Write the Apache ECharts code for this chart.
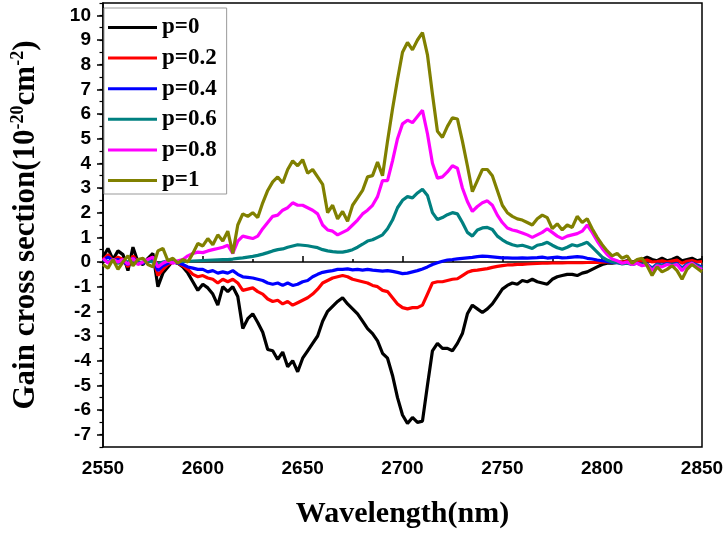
<!DOCTYPE html>
<html>
<head>
<meta charset="utf-8">
<script src="https://cdn.jsdelivr.net/npm/echarts@6/dist/echarts.min.js"></script>
<style>
  html, body { margin: 0; padding: 0; background: #fff; }
  #main { width: 727px; height: 534px; }
</style>
</head>
<body>
<div id="main"></div>
<script>
// wavelength grid (nm): 2550 .. 2850, one sample every 2.5 nm
var wlStart = 2550, wlStep = 2.5;

// gain cross section (1e-20 cm^2), one row = 25 nm
var p0 = [
  0.2, 0.55, 0.1, 0.45, 0.3, -0.35, 0.6, 0.0, -0.1, 0.15,
  0.35, -1.0, -0.45, -0.2, 0.05, -0.05, -0.2, -0.45, -0.8, -1.15,
  -0.9, -1.05, -1.3, -1.75, -1.0, -1.2, -1.0, -1.4, -2.7, -2.3,
  -2.1, -2.45, -2.85, -3.55, -3.6, -3.95, -3.65, -4.25, -4.0, -4.45,
  -3.9, -3.6, -3.3, -3.0, -2.4, -2.0, -1.8, -1.6, -1.45, -1.7,
  -1.9, -2.1, -2.4, -2.7, -2.9, -3.2, -3.7, -3.9, -4.6, -5.5,
  -6.2, -6.55, -6.3, -6.5, -6.45, -5.0, -3.6, -3.3, -3.5, -3.5,
  -3.6, -3.3, -2.9, -2.1, -1.75, -1.9, -2.05, -1.9, -1.7, -1.4,
  -1.1, -0.95, -0.85, -0.9, -0.75, -0.8, -0.7, -0.8, -0.85, -0.9,
  -0.7, -0.6, -0.55, -0.5, -0.5, -0.55, -0.45, -0.4, -0.3, -0.2,
  -0.1, -0.05, -0.05, -0.02, 0.0, 0.05, 0.0, 0.05, 0.1, 0.2,
  0.1, 0.05, 0.15, 0.05, 0.1, 0.2, 0.05, 0.1, 0.15, 0.05,
  0.1
];
var p02 = [
  0.1, 0.3, 0.05, 0.2, 0.1, -0.2, 0.25, 0.0, -0.05, 0.1,
  0.2, -0.55, -0.3, -0.1, 0.0, -0.05, -0.15, -0.3, -0.5, -0.6,
  -0.55, -0.65, -0.7, -0.85, -0.7, -0.8, -0.7, -0.85, -1.15, -1.1,
  -1.05, -1.2, -1.3, -1.5, -1.6, -1.55, -1.7, -1.6, -1.75, -1.65,
  -1.55, -1.45, -1.3, -1.1, -0.85, -0.75, -0.65, -0.6, -0.55, -0.6,
  -0.7, -0.75, -0.8, -0.85, -0.95, -1.0, -1.15, -1.2, -1.45, -1.7,
  -1.85, -1.9, -1.85, -1.85, -1.75, -1.3, -0.85, -0.8, -0.8, -0.75,
  -0.7, -0.68, -0.55, -0.42, -0.35, -0.33, -0.3, -0.27, -0.22, -0.18,
  -0.15, -0.12, -0.12, -0.1, -0.1, -0.08, -0.07, -0.06, -0.05, -0.05,
  -0.04, -0.04, -0.04, -0.03, -0.03, -0.03, -0.03, -0.02, -0.02, -0.02,
  -0.01, 0.0, 0.0, 0.02, 0.0, 0.03, -0.02, 0.02, 0.05, 0.08,
  0.0, 0.02, 0.05, 0.0, 0.04, 0.08, -0.05, 0.03, 0.06, 0.0,
  0.02
];
var p04 = [
  0.05, 0.2, 0.05, 0.1, 0.0, -0.1, 0.15, 0.0, -0.05, 0.05,
  0.1, -0.35, -0.15, -0.05, 0.0, -0.05, -0.1, -0.2, -0.25, -0.3,
  -0.3, -0.4, -0.35, -0.45, -0.4, -0.45, -0.35, -0.5, -0.6, -0.62,
  -0.65, -0.7, -0.75, -0.85, -0.9, -0.85, -0.95, -0.85, -0.95, -0.9,
  -0.8, -0.75, -0.6, -0.5, -0.42, -0.38, -0.35, -0.3, -0.3, -0.28,
  -0.32, -0.3, -0.33, -0.3, -0.33, -0.35, -0.37, -0.35, -0.38, -0.42,
  -0.47, -0.45, -0.4, -0.35, -0.28, -0.2, -0.1, -0.03, 0.03, 0.08,
  0.1, 0.13, 0.15, 0.17, 0.19, 0.22, 0.24, 0.23, 0.21, 0.19,
  0.17, 0.17, 0.16, 0.16, 0.17, 0.16, 0.17, 0.18, 0.2, 0.16,
  0.18, 0.2, 0.17, 0.18, 0.2, 0.22, 0.2, 0.15, 0.12, 0.08,
  0.05, 0.02, -0.02, -0.03, -0.06, -0.04, -0.08, -0.05, -0.1, -0.08,
  -0.25, -0.08, -0.12, -0.06, -0.1, -0.06, -0.25, -0.08, -0.04, -0.12,
  -0.2
];
var p06 = [
  0.1, 0.0, 0.05, -0.05, 0.05, 0.0, 0.1, -0.05, 0.0, 0.05,
  0.0, -0.1, 0.0, 0.05, 0.0, 0.02, 0.02, 0.03, 0.04, 0.05,
  0.06, 0.07, 0.08, 0.09, 0.1, 0.1, 0.12, 0.15, 0.17, 0.2,
  0.23, 0.27, 0.32, 0.38, 0.45, 0.5, 0.53, 0.6, 0.65, 0.7,
  0.68, 0.66, 0.62, 0.58, 0.5, 0.45, 0.42, 0.4, 0.4, 0.44,
  0.5, 0.6, 0.72, 0.85, 0.9, 1.0, 1.1, 1.35, 1.7, 2.2,
  2.5, 2.65, 2.6, 2.8, 2.95, 2.7, 2.0, 1.72, 1.8, 1.92,
  2.0, 1.95, 1.6, 1.2, 1.05, 1.3, 1.38, 1.4, 1.32, 1.05,
  0.9, 0.78, 0.7, 0.65, 0.68, 0.62, 0.55, 0.68, 0.72, 0.8,
  0.68, 0.58, 0.52, 0.6, 0.7, 0.65, 0.72, 0.8, 0.6, 0.4,
  0.2, 0.08, 0.0, -0.02, -0.08, -0.05, -0.1, -0.05, -0.12, -0.1,
  -0.3, -0.1, -0.15, -0.08, -0.12, -0.08, -0.3, -0.1, -0.05, -0.15,
  -0.25
];
var p08 = [
  0.15, -0.05, 0.1, 0.0, 0.1, -0.1, 0.15, -0.1, 0.0, 0.1,
  0.2, -0.2, -0.05, 0.05, -0.05, 0.05, 0.1, 0.25, 0.35, 0.4,
  0.38, 0.45, 0.5, 0.55, 0.6, 0.68, 0.35, 0.85, 1.05, 1.0,
  0.95, 1.05, 1.35, 1.6, 1.85, 1.9, 2.1, 2.2, 2.4, 2.3,
  2.3, 2.2, 2.1, 1.95, 1.5, 1.3, 1.25, 1.1, 1.2, 1.3,
  1.5, 1.7, 1.95, 2.1, 2.3, 2.65, 3.3, 3.3, 4.1, 5.0,
  5.6, 5.75, 5.65, 5.9, 6.15, 5.2, 4.0, 3.4, 3.45, 3.65,
  3.9, 3.8, 3.0, 2.45, 2.05, 2.25, 2.4, 2.48, 2.3, 1.9,
  1.6, 1.38, 1.3, 1.25, 1.18, 1.1, 1.0, 1.1, 1.2, 1.35,
  1.2, 1.05, 0.95, 1.05, 1.1, 1.15, 1.25, 1.5, 1.2, 0.85,
  0.55, 0.3, 0.12, 0.05, -0.05, 0.0, -0.1, -0.05, -0.15, -0.1,
  -0.35, -0.15, -0.2, -0.1, -0.15, -0.1, -0.35, -0.15, -0.05, -0.2,
  -0.3
];
var p1 = [
  -0.1, -0.25, 0.1, -0.3, 0.0, 0.25, -0.15, 0.1, 0.15, -0.1,
  -0.2, 0.45, 0.55, 0.05, 0.15, -0.05, 0.1, 0.0, 0.35, 0.75,
  0.65, 0.95, 0.7, 1.1, 0.85, 1.25, 0.35, 1.5, 1.95, 1.85,
  2.0, 1.8, 2.4, 2.9, 3.25, 3.45, 3.2, 3.75, 4.1, 3.9,
  4.15, 3.6, 3.75, 3.45, 3.15, 2.0, 2.3, 1.75, 2.05, 1.65,
  2.3, 2.6, 2.9, 3.45, 3.5, 4.05, 3.5, 4.9, 6.2, 7.4,
  8.5, 8.9, 8.6, 9.0, 9.3, 8.4, 6.8, 5.3, 5.05, 5.5,
  5.85, 5.8, 4.9, 3.9, 2.85, 3.3, 3.75, 3.75, 3.5, 2.9,
  2.3, 2.0, 1.85, 1.75, 1.7, 1.6, 1.5, 1.75, 1.9, 1.8,
  1.35, 1.55, 1.3, 1.5, 1.4, 1.85, 1.6, 1.75, 1.35, 1.0,
  0.7, 0.45, 0.25, 0.35, 0.15, 0.25, -0.05, 0.1, 0.15, -0.15,
  -0.55, -0.2, -0.4, -0.3, -0.15, -0.35, -0.7, -0.3, -0.1, -0.25,
  -0.4
];

var seriesNames = ['p=0', 'p=0.2', 'p=0.4', 'p=0.6', 'p=0.8', 'p=1'];
var seriesColors = ['#000000', '#ff0000', '#0000ff', '#008080', '#ff00ff', '#808000'];
var seriesValues = [p0, p02, p04, p06, p08, p1];
var yTickValues = [-7, -6, -5, -4, -3, -2, -1, 0, 1, 2, 3, 4, 5, 6, 7, 8, 9, 10];

var myChart = echarts.init(document.getElementById('main'));

function toPairs(values) {
  var out = [];
  for (var i = 0; i < values.length; i++) {
    out.push([wlStart + i * wlStep, values[i]]);
  }
  return out;
}

var series = [];
for (var k = 0; k < seriesNames.length; k++) {
  series.push({
    name: seriesNames[k],
    type: 'line',
    data: toPairs(seriesValues[k]),
    symbol: 'none',
    showSymbol: false,
    color: seriesColors[k],
    lineStyle: { width: 3.2, color: seriesColors[k] }
  });
}

var tickFont = { fontFamily: 'Liberation Sans', fontWeight: 'bold', fontSize: 19, color: '#000' };

var option = {
  animation: false,
  backgroundColor: '#fff',
  grid: {
    left: 103, right: 25, top: 3, bottom: 85,
    show: true, borderColor: '#000', borderWidth: 1.5
  },
  legend: {
    orient: 'vertical',
    left: 104, top: 8,
    icon: 'rect',
    itemWidth: 49, itemHeight: 3,
    itemGap: 7.6,
    backgroundColor: '#fff',
    borderColor: '#999', borderWidth: 1,
    padding: [8, 10, 2, 4],
    textStyle: { fontFamily: 'Liberation Serif', fontWeight: 'bold', fontSize: 23, color: '#000' },
    data: seriesNames
  },
  xAxis: {
    type: 'value',
    min: 2550, max: 2850, interval: 50,
    name: 'Wavelength(nm)',
    nameLocation: 'middle',
    nameGap: 52,
    nameTextStyle: { fontFamily: 'Liberation Serif', fontWeight: 'bold', fontSize: 30, color: '#000' },
    axisLine: { lineStyle: { color: '#000', width: 1.5 } },
    axisTick: { inside: true, length: 6, lineStyle: { color: '#000', width: 1.5 } },
    minorTick: { show: true, splitNumber: 2, length: 3, lineStyle: { color: '#000', width: 1.5 } },
    axisLabel: Object.assign({
      margin: 12,
      formatter: function (v) { return String(v); }
    }, tickFont),
    splitLine: { show: false }
  },
  yAxis: [{
    type: 'value',
    min: -7.5, max: 10.5, interval: 0.5,
    name: '{a|Gain cross section(10}{s|-20}{a|cm}{s|-2}{a|)}',
    nameLocation: 'middle',
    nameRotate: 90,
    nameGap: 60,
    nameTextStyle: {
      rich: {
        a: { fontFamily: 'Liberation Serif', fontWeight: 'bold', fontSize: 31, color: '#000', lineHeight: 34 },
        s: { fontFamily: 'Liberation Serif', fontWeight: 'bold', fontSize: 18, color: '#000', verticalAlign: 'top', lineHeight: 34 }
      }
    },
    axisLine: { show: true, lineStyle: { color: '#000', width: 1.5 } },
    axisTick: { show: true, inside: false, length: 3.5, lineStyle: { color: '#000', width: 1.2 } },
    axisLabel: Object.assign({
      margin: 12,
      formatter: function (v) { return v % 1 === 0 ? String(v) : ''; }
    }, tickFont),
    splitLine: { show: false }
  }, {
    type: 'value',
    min: -7.5, max: 10.5,
    position: 'left',
    axisLine: { show: false },
    axisTick: { show: true, inside: false, length: 6, customValues: yTickValues, lineStyle: { color: '#000', width: 1.5 } },
    axisLabel: { show: false },
    splitLine: { show: false }
  }],
  series: series
};

myChart.setOption(option);
</script>
</body>
</html>
